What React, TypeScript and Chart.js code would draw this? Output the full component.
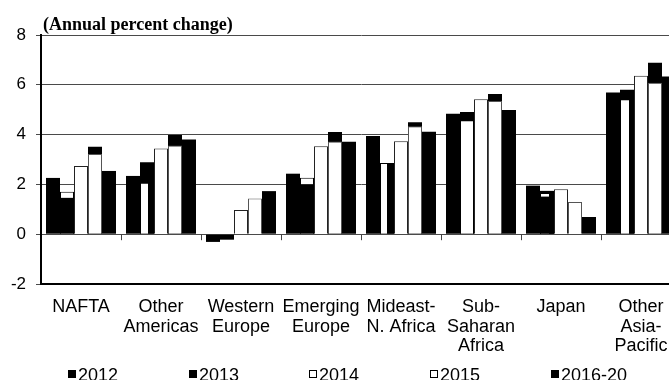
import React, { useEffect, useRef } from 'react';
import { Chart, registerables } from 'chart.js';

Chart.register(...registerables);

// ---- data ----
const categories: (string | string[])[] = [
  'NAFTA',
  ['Other', 'Americas'],
  ['Western', 'Europe'],
  ['Emerging', 'Europe'],
  ['Mideast-', 'N. Africa'],
  ['Sub-', 'Saharan', 'Africa'],
  'Japan',
  ['Other', 'Asia-', 'Pacific'],
];

const values2012 = [2.26, 2.34, -0.31, 2.43, 3.94, 4.84, 1.95, 5.69];
// 2013 slot as printed: a black bar, a white bar and a black bar overprinted
const values2013Under = [null, 2.89, null, null, 2.85, 4.91, 1.74, 5.8];
const values2013Inner = [1.7, 2.07, null, 2.27, 2.86, 4.58, 1.65, 5.42];
const values2013Over = [1.46, null, -0.22, 2.01, null, null, 1.51, null];
const values2014 = [2.74, 3.44, 0.97, 3.53, 3.73, 5.42, 1.81, 6.36];
// 2015 slot as printed: white bar over a taller black bar
const values2015Under = [3.51, 3.98, null, 4.1, 4.5, 5.63, null, 6.89];
const values2015 = [3.22, 3.56, 1.43, 3.72, 4.34, 5.35, 1.29, 6.08];
const values2016to20 = [2.54, 3.8, 1.73, 3.71, 4.11, 4.99, 0.69, 6.33];

const yMin = -2;
const yMax = 8;
const yStep = 2;

const legendLabels = ['2012', '2013', '2014', '2015', '2016-20'];
const legendFilled = [true, true, false, false, true];

const titleText = '(Annual percent change)';

// style: width of the dark right edge on the inner white 2013 bars
const innerRightEdge = [1, 6, 0, 1, 7, 1, 5, 5];

const SANS = '"Liberation Sans", Arial, sans-serif';
const SERIF = '"Liberation Serif", "Times New Roman", serif';

const decorPlugin = {
  id: 'decor',
  afterDraw(chart: any) {
    const ctx = chart.ctx as CanvasRenderingContext2D;
    const { left } = chart.chartArea;
    const xs = chart.scales.x;
    const ys = chart.scales.y;
    ctx.save();
    // tick marks hanging below the zero line, at category boundaries
    const y0 = ys.getPixelForValue(0);
    ctx.strokeStyle = '#444';
    ctx.lineWidth = 1;
    for (let i = 1; i < categories.length; i++) {
      const xb = Math.round((xs.getPixelForValue(i - 1) + xs.getPixelForValue(i)) / 2) + 0.5;
      ctx.beginPath();
      ctx.moveTo(xb, y0);
      ctx.lineTo(xb, y0 + 6);
      ctx.stroke();
    }
    // title
    ctx.fillStyle = '#000';
    ctx.font = 'bold 18px ' + SERIF;
    ctx.textBaseline = 'alphabetic';
    ctx.textAlign = 'left';
    ctx.fillText(titleText, left + 2, 30);
    // legend
    ctx.font = '18px ' + SANS;
    const startX = 68;
    const stepX = 120.7;
    legendLabels.forEach((lab, i) => {
      const mx = Math.round(startX + i * stepX);
      if (legendFilled[i]) {
        ctx.fillStyle = '#000';
        ctx.fillRect(mx, 370, 8, 8);
      } else {
        ctx.fillStyle = '#fff';
        ctx.fillRect(mx, 370, 8, 8);
        ctx.strokeStyle = '#000';
        ctx.lineWidth = 1;
        ctx.strokeRect(mx + 0.5, 370.5, 7, 7);
      }
      ctx.fillStyle = '#000';
      ctx.fillText(lab, mx + 10, 381);
    });
    ctx.restore();
  },
};

export default function App() {
  const ref = useRef<HTMLCanvasElement | null>(null);

  useEffect(() => {
    if (!ref.current) return;
    const black = '#000000';
    const white = '#ffffff';
    const blackBar = (label: string, data: (number | null)[], stack: string) => ({
      label,
      data,
      stack,
      backgroundColor: black,
      borderWidth: 0,
    });
    const whiteBar = (label: string, data: (number | null)[], stack: string, bw: any, edge: string) => ({
      label,
      data,
      stack,
      backgroundColor: white,
      borderColor: edge,
      borderWidth: bw,
      borderSkipped: 'start',
    });
    const chart = new Chart(ref.current, {
      type: 'bar',
      data: {
        labels: categories as any,
        datasets: [
          blackBar('2012', values2012, 'a'),
          blackBar('2013', values2013Over as any, 'b'),
          whiteBar(
            '2013 inner',
            values2013Inner as any,
            'b',
            (c: any) => ({
              top: 1,
              left: 1,
              right: innerRightEdge[c.dataIndex] ?? 1,
              bottom: 0,
            }),
            '#000'
          ),
          blackBar('2013 under', values2013Under as any, 'b'),
          whiteBar('2014', values2014, 'c', 1, '#222'),
          whiteBar('2015', values2015, 'd', 1, '#555'),
          blackBar('2015 under', values2015Under as any, 'd'),
          blackBar('2016-20', values2016to20, 'e'),
        ] as any,
      },
      options: {
        animation: false,
        responsive: false,
        devicePixelRatio: 1,
        layout: { padding: { top: 35, right: 9, left: 0, bottom: 0 } },
        datasets: {
          bar: {
            categoryPercentage: 0.875,
            barPercentage: 1,
          } as any,
        },
        plugins: {
          legend: { display: false },
          title: { display: false },
          tooltip: { enabled: false },
        },
        scales: {
          x: {
            stacked: true,
            offset: true,
            grid: { display: false, drawTicks: false },
            border: { display: true, color: '#000', width: 2 },
            ticks: {
              color: '#000',
              font: { family: SANS, size: 18, lineHeight: 1.1 },
              padding: 13,
              maxRotation: 0,
              autoSkip: false,
            },
            afterFit: (s: any) => {
              s.height = 96;
            },
          },
          y: {
            stacked: false,
            min: yMin,
            max: yMax,
            ticks: {
              stepSize: yStep,
              color: '#000',
              font: { family: SANS, size: 17 },
              padding: 10,
            },
            grid: { color: '#4a4a4a', lineWidth: 1, tickLength: 5, drawTicks: true },
            border: { display: true, color: '#000', width: 2 },
            afterFit: (s: any) => {
              s.width = 41;
            },
          },
        },
      } as any,
      plugins: [decorPlugin],
    });
    return () => chart.destroy();
  }, []);

  return (
    <div
      style={{
        position: 'fixed',
        left: 0,
        top: 0,
        width: 669,
        height: 380,
        overflow: 'hidden',
        background: '#fff',
      }}
    >
      <canvas ref={ref} width={690} height={380} style={{ display: 'block', width: 690, height: 380 }} />
    </div>
  );
}
